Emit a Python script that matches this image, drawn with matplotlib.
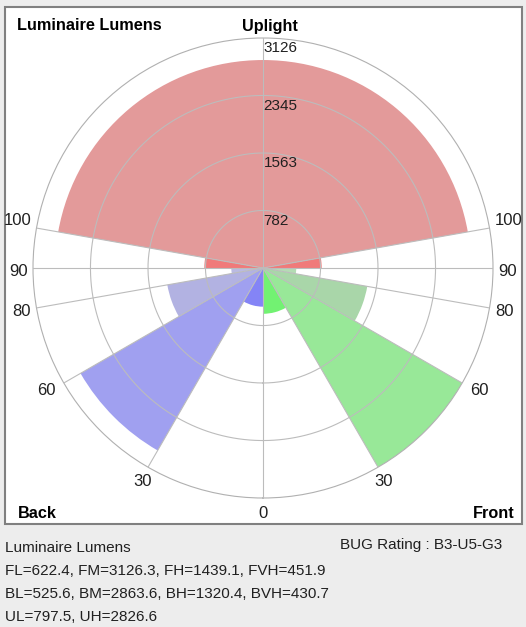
import matplotlib.pyplot as plt
from matplotlib.patches import Rectangle
import numpy as np

# zone data (lumens) - front / back / uplight
front_names = ['FL', 'FM', 'FH', 'FVH']
front_vals = [622.4, 3126.3, 1439.1, 451.9]
back_names = ['BL', 'BM', 'BH', 'BVH']
back_vals = [525.6, 2863.6, 1320.4, 430.7]
up_names = ['UL', 'UH']
up_vals = [797.5, 2826.6]

# zone limits in degrees from nadir
zone_edges = [0, 30, 60, 80, 90]
ring_vals = [782, 1563, 2345, 3126]
angle_ticks = [30, 60, 80, 90, 100]
bug_rating = 'B3-U5-G3'

front_cols = ['#72f272', '#98e898', '#a9d6a9', '#b4dcb4']
back_cols = ['#8484f6', '#a0a0f0', '#b2b2e2', '#babae2']
up_cols = ['#f07a7a', '#e39a9a']

plt.rcParams['font.family'] = ['Liberation Sans', 'DejaVu Sans']

W, H = 526, 627
fig = plt.figure(figsize=(W/100, H/100), dpi=100)
fig.patch.set_facecolor('#ededed')

# white panel
fig.patches.append(Rectangle((5/W, 1-524/H), 517/W, 517/H, transform=fig.transFigure,
                             facecolor='white', edgecolor='#808080', lw=1.5, zorder=-5))

cx, cy, R = 263, 268, 230
ax = fig.add_axes([(cx-R)/W, (H-cy-R)/H, 2*R/W, 2*R/H], projection='polar')
ax.set_zorder(2)
ax.set_theta_zero_location('S')
ax.set_theta_direction(1)
ax.set_ylim(0, ring_vals[-1])
ax.patch.set_alpha(0)
ax.grid(False)
ax.set_xticks([])
ax.set_yticks([])
ax.spines['polar'].set_color('#b0b0b0')
ax.spines['polar'].set_linewidth(0.8)

# uplight
ul_w = np.radians(10)
ax.bar([np.radians(95), np.radians(-95)], [up_vals[0]]*2, width=ul_w, bottom=0,
       color=up_cols[0], align='center', zorder=1, linewidth=0)
ax.bar(np.radians(180), up_vals[1], width=np.radians(160), bottom=0,
       color=up_cols[1], align='center', zorder=1, linewidth=0)

# front and back
for i in range(4):
    a0, a1 = zone_edges[i], zone_edges[i+1]
    mid = np.radians((a0 + a1) / 2)
    w = np.radians(a1 - a0)
    ax.bar(mid, front_vals[i], width=w, color=front_cols[i], linewidth=0, zorder=1)
    ax.bar(-mid, back_vals[i], width=w, color=back_cols[i], linewidth=0, zorder=1)

# grid on top
gc = '#bcbcbc'
th = np.linspace(0, 2*np.pi, 400)
for rv in ring_vals[:-1]:
    ax.plot(th, [rv]*len(th), color=gc, lw=0.8, zorder=3)
for a in [0, 180] + angle_ticks + [-a for a in angle_ticks]:
    ax.plot([np.radians(a)]*2, [0, ring_vals[-1]], color=gc, lw=0.8, zorder=3)

# ring labels
for rv in ring_vals:
    ax.annotate(str(rv), (np.pi, rv), xytext=(0.5, -2.5), textcoords='offset points',
                ha='left', va='top', fontsize=11, color='#202020', zorder=4)

# angle labels (offsets in px from the outer ring)
lab_off = {100: (19, 8), 90: (14.5, -3), 80: (14.5, -4), 60: (17, -7), 30: (5.5, -14)}
for a in angle_ticks:
    dx, dy = lab_off[a]
    for s in (1, -1):
        ax.annotate(str(a), (np.radians(s*a), ring_vals[-1]), xytext=(s*dx*0.72, dy*0.72),
                    textcoords='offset points', ha='center', va='center',
                    fontsize=12, color='#202020', annotation_clip=False)
ax.annotate('0', (0, ring_vals[-1]), xytext=(0, -15*0.72), textcoords='offset points',
            ha='center', va='center', fontsize=12, color='#202020', annotation_clip=False)

bold = dict(fontsize=11.7, fontweight='bold', color='black')
fig.text(17/W, 1-26/H, 'Luminaire Lumens', ha='left', va='center', **bold)
fig.text(270/W, 1-26/H, 'Uplight', ha='center', va='center', **bold)
fig.text(18/W, 1-513/H, 'Back', ha='left', va='center', **bold)
fig.text(515/W, 1-513/H, 'Front', ha='right', va='center', **bold)

# summary text
lines = ['Luminaire Lumens',
         ', '.join(f'{n}={v}' for n, v in zip(front_names, front_vals)),
         ', '.join(f'{n}={v}' for n, v in zip(back_names, back_vals)),
         ', '.join(f'{n}={v}' for n, v in zip(up_names, up_vals))]
ys = [548.5, 571, 594, 617]
for y, t in zip(ys, lines):
    fig.text(5/W, 1-y/H, t, ha='left', va='center', fontsize=11, color='#202020')
fig.text(502/W, 1-545/H, 'BUG Rating : ' + bug_rating, ha='right', va='center',
         fontsize=11, color='#202020')

fig.savefig('out.png', dpi=100, facecolor=fig.get_facecolor())
